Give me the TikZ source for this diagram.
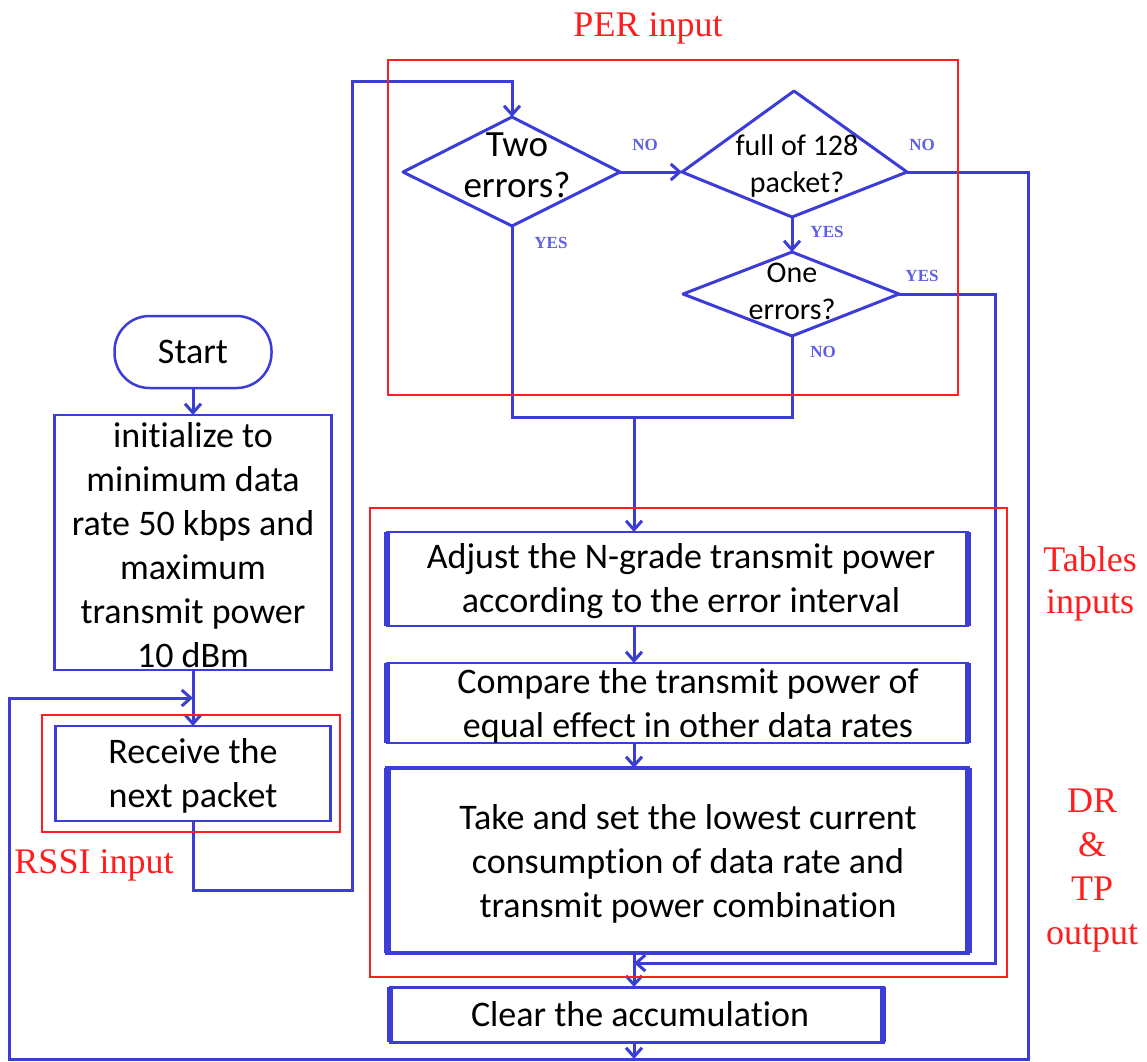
\documentclass[tikz,border=0pt]{standalone}
\usepackage{fontspec}
\setmainfont[Ligatures=CommonOff]{Carlito}
\newfontfamily\timesfont{Liberation Serif}
\usetikzlibrary{arrows.meta,calc}
\definecolor{flowblue}{RGB}{60,60,215}
\definecolor{tagblue}{RGB}{95,95,228}
\definecolor{zonered}{RGB}{255,30,30}
\tikzset{
  flow/.style={draw=flowblue, line width=3pt},
  arr/.style={flow, -{Straight Barb[length=9pt,width=16pt]}},
  zone/.style={draw=zonered, line width=2pt},
  txt/.style={align=center, inner sep=0pt, font=\fontsize{36}{44}\selectfont},
  box/.style={draw=flowblue, line width=2.5pt, outer sep=0pt, inner sep=0pt, fill=white},
  sidebar/.style={draw=flowblue, line width=6pt},
  tag/.style={text=tagblue, inner sep=0pt, font=\timesfont\bfseries\fontsize{17}{20}\selectfont},
  zonelabel/.style={text=zonered, align=center, inner sep=0pt, font=\timesfont\fontsize{36}{44}\selectfont},
}
\begin{document}
\begin{tikzpicture}[x=1pt, y=-1pt]
\useasboundingbox (0,0) rectangle (1147,1061);

% ---------- left column ----------
\node[box, rounded corners=35pt, minimum width=157pt, minimum height=72pt] (start) at (193,352) {};
\node[txt] (starttxt) at (193,352) {Start};
\node[box, minimum width=277pt, minimum height=255pt] (init) at (193,542.5) {};
\node[txt] (inittxt) at (193,545) {initialize to\\minimum data\\rate 50 kbps and\\maximum\\transmit power\\10 dBm};
\node[box, minimum width=275pt, minimum height=95pt] (recv) at (193,773.5) {};
\node[txt] (recvtxt) at (193,776) {Receive the\\next packet};

% ---------- decisions ----------
\coordinate (two-t) at (512,117);
\coordinate (two-r) at (620,172);
\coordinate (two-b) at (512,226);
\coordinate (two-l) at (403,172);
\draw[flow, line join=round] (two-t) -- (two-r) -- (two-b) -- (two-l) -- cycle;
\node[txt, font=\fontsize{37}{41}\selectfont] (twotxt) at (517,165) {Two\\errors?};

\coordinate (full-t) at (794,91);
\coordinate (full-r) at (907,172);
\coordinate (full-b) at (792,217);
\coordinate (full-l) at (682,172);
\draw[flow, line join=round] (full-t) -- (full-r) -- (full-b) -- (full-l) -- cycle;
\node[txt, font=\fontsize{30}{37}\selectfont] (fulltxt) at (797,166) {full of 128\\packet?};

\coordinate (one-t) at (792,252);
\coordinate (one-r) at (899,294);
\coordinate (one-b) at (792,336);
\coordinate (one-l) at (683,294);
\draw[flow, line join=round] (one-t) -- (one-r) -- (one-b) -- (one-l) -- cycle;
\node[txt, font=\fontsize{30}{37}\selectfont] (onetxt) at (792,291) {One\\errors?};

% ---------- process boxes ----------
\node[box, minimum width=581pt, minimum height=94pt] (adjust) at (677.5,579) {};
\node[txt] (adjusttxt) at (681,581) {Adjust the N-grade transmit power\\according to the error interval};
\node[box, minimum width=581pt, minimum height=80pt] (compare) at (677.5,703) {};
\node[txt] (comparetxt) at (688,706) {Compare the transmit power of\\equal effect in other data rates};
\node[box, line width=4.5pt, minimum width=581pt, minimum height=185pt] (take) at (677.5,860.5) {};
\node[txt] (taketxt) at (688,864) {Take and set the lowest current\\consumption of data rate and\\transmit power combination};
\node[box, line width=3pt, minimum width=493pt, minimum height=55pt] (clear) at (636.5,1014.5) {};
\node[txt] (cleartxt) at (640,1014) {Clear the accumulation};

\foreach \b in {adjust,compare,clear}{
  \draw[sidebar] (\b.north west) -- (\b.south west);
  \draw[sidebar] (\b.north east) -- (\b.south east);
}
\draw[sidebar, line width=7pt] (take.north west) -- (take.south west);
\draw[sidebar, line width=7pt] (take.north east) -- (take.south east);

% ---------- connectors ----------
\coordinate (spine) at (634,417);
\coordinate (bendA) at (193,890);
\coordinate (bendB) at (352,81);
\coordinate (rail) at (1028,1059);
\coordinate (leftrail) at (9,698);
\coordinate (recvin) at ($(init.south)!0.5!(recv.north)$);
\coordinate (yesrail) at (995,963);

\draw[arr] (start.south) -- (init.north);
\draw[arr] (init.south) -- (recv.north);
\draw[arr] (recv.south) -- (bendA) -| (bendB) -| (two-t);
\draw[arr] (two-r) -- (full-l);
\draw[arr] (full-b) -- (one-t);
\draw[flow] (two-b) |- (spine);
\draw[flow] (one-b) |- (spine);
\draw[arr] (spine) -- (spine |- adjust.north);
\draw[arr] (spine |- adjust.south) -- (spine |- compare.north);
\draw[arr] (spine |- compare.south) -- (spine |- take.north);
\draw[arr] (spine |- take.south) -- (spine |- clear.north);
\draw[arr] (spine |- clear.south) -- (spine |- rail);
\draw[arr] (one-r) -| (yesrail) -- (spine |- yesrail);
\draw[arr] (full-r) -| (rail) -| (leftrail) -- (recvin);

% ---------- branch tags ----------
\node[tag] (tagtwono) at (645,145) {NO};
\node[tag] (tagtwoyes) at (551,243) {YES};
\node[tag] (tagfullno) at (922,145) {NO};
\node[tag] (tagfullyes) at (827,232) {YES};
\node[tag] (tagoneyes) at (922,276) {YES};
\node[tag] (tagoneno) at (823,352) {NO};

% ---------- input / output zones ----------
\draw[zone] (388,60) rectangle (958,395);
\draw[zone] (370,508) rectangle (1007,977);
\draw[zone] (42,715) rectangle (340,832);

\node[zonelabel] (perlbl) at (648,28) {PER input};
\node[zonelabel, font=\timesfont\fontsize{36}{42}\selectfont] (tablbl) at (1090,584) {Tables\\inputs};
\node[zonelabel, font=\timesfont\fontsize{36}{44}\selectfont] (drlbl) at (1092,871) {DR\\\&\\TP\\output};
\node[zonelabel] (rssilbl) at (94,865) {RSSI input};
\end{tikzpicture}
\end{document}
